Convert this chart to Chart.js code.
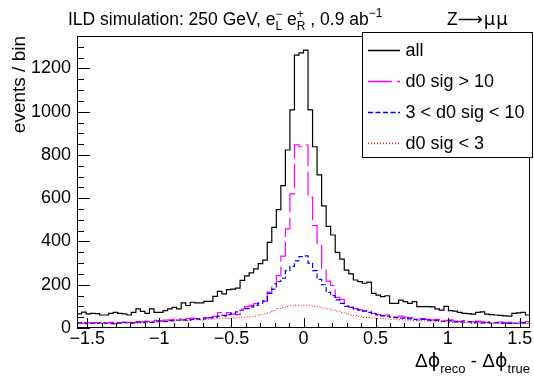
<!DOCTYPE html>
<html>
<head>
<meta charset="utf-8">
<script src="https://cdn.jsdelivr.net/npm/chart.js@4.4.1/dist/chart.umd.min.js"></script>
<style>
  html, body { margin: 0; padding: 0; background: #fff; }
  #wrap { width: 534px; height: 383px; }
</style>
</head>
<body>
<div id="wrap"><canvas id="myChart" width="534" height="383"></canvas></div>
<script>
// binning of the histograms
const xLow = -Math.PI / 2;
const xHigh = Math.PI / 2;
const nBins = 100;

const xTicks = [-1.5, -1, -0.5, 0, 0.5, 1, 1.5];
const yTicks = [0, 200, 400, 600, 800, 1000, 1200];
const yMax = 1350;

const seriesNames = ['all', 'd0 sig > 10', '3 < d0 sig < 10', 'd0 sig < 3'];

// events per bin
const allEvents = [
  65, 73, 65, 68, 66, 60, 60, 68, 72, 68,
  65, 60, 72, 88, 77, 68, 88, 72, 72, 80,
  88, 95, 88, 116, 104, 119, 116, 116, 123, 123,
  146, 169, 158, 177, 180, 184, 220, 241, 255, 273,
  298, 314, 396, 465, 547, 658, 823, 1008, 1262, 1272,
  1285, 1008, 838, 708, 565, 470, 430, 350, 318, 268,
  250, 222, 214, 207, 212, 160, 152, 145, 149, 114,
  114, 129, 122, 114, 122, 99, 99, 99, 98, 88,
  83, 100, 80, 78, 72, 68, 66, 64, 72, 75,
  64, 62, 60, 58, 56, 55, 68, 70, 72, 60
];
const sigHigh = [
  25, 22, 24, 22, 25, 22, 24, 26, 20, 25,
  28, 26, 25, 30, 28, 32, 30, 35, 33, 36,
  38, 40, 42, 38, 44, 46, 43, 50, 48, 47,
  54, 71, 55, 71, 64, 62, 88, 99, 105, 113,
  121, 123, 166, 205, 242, 332, 458, 620, 847, 838,
  846, 605, 473, 386, 273, 217, 197, 142, 132, 102,
  95, 90, 85, 80, 78, 68, 62, 58, 60, 52,
  50, 55, 50, 48, 45, 42, 44, 40, 38, 40,
  36, 35, 38, 32, 30, 34, 30, 28, 32, 28,
  26, 30, 25, 27, 24, 26, 22, 28, 25, 30
];
const sigMid = [
  22, 24, 20, 23, 21, 25, 22, 20, 24, 22,
  26, 24, 22, 27, 25, 28, 26, 30, 32, 30,
  34, 33, 36, 38, 35, 40, 42, 40, 45, 48,
  50, 55, 58, 62, 68, 75, 82, 90, 98, 105,
  115, 125, 160, 180, 215, 230, 265, 285, 310, 330,
  333, 300, 265, 225, 200, 165, 150, 130, 114, 100,
  95, 88, 82, 78, 72, 66, 60, 56, 55, 50,
  48, 46, 46, 42, 40, 38, 40, 36, 34, 35,
  32, 30, 33, 28, 30, 27, 28, 25, 27, 24,
  26, 23, 25, 22, 24, 21, 23, 22, 24, 22
];
const sigLow = [
  22, 20, 24, 21, 23, 20, 22, 25, 18, 24,
  22, 26, 24, 22, 28, 25, 30, 28, 30, 31,
  33, 34, 35, 36, 37, 36, 38, 37, 40, 41,
  42, 43, 45, 44, 48, 47, 50, 52, 52, 55,
  62, 66, 70, 80, 90, 96, 100, 103, 105, 104,
  106, 103, 100, 97, 92, 88, 83, 78, 72, 66,
  60, 58, 54, 49, 47, 46, 44, 45, 42, 40,
  41, 38, 37, 36, 34, 35, 32, 31, 32, 29,
  28, 29, 26, 27, 25, 26, 24, 22, 25, 21,
  23, 21, 24, 20, 22, 19, 23, 20, 22, 21
];

const FONT = '"Liberation Sans", Arial, Helvetica, sans-serif';
const SYM = '"DejaVu Sans", sans-serif';

// histogram -> step points at the bin edges
function toSteps(values) {
  const w = (xHigh - xLow) / nBins;
  const pts = values.map((v, i) => ({ x: xLow + i * w, y: v }));
  pts.push({ x: xHigh, y: values[values.length - 1] });
  return pts;
}

function minus(v) {
  return String(v).replace('-', '\u2212');
}

function drawParts(ctx, x, y, parts) {
  let cx = x;
  parts.forEach(p => {
    ctx.font = p.s + 'px ' + (p.f || FONT);
    ctx.fillText(p.t, cx, y + (p.dy || 0));
    if (!p.hold) cx += ctx.measureText(p.t).width + (p.gap || 0);
  });
  return cx;
}

function partsWidth(ctx, parts) {
  let w = 0;
  parts.forEach(p => {
    ctx.font = p.s + 'px ' + (p.f || FONT);
    if (!p.hold) w += ctx.measureText(p.t).width + (p.gap || 0);
  });
  return w;
}

const styles = [
  { color: '#000000', dash: [], width: 1.2 },
  { color: '#ff00ff', dash: [24, 5], width: 1.2 },
  { color: '#0000ff', dash: [5, 2.5], width: 1.2 },
  { color: '#ff0000', dash: [1, 2], width: 1 }
];

// frame, ticks, titles and the legend box
const rootStyle = {
  id: 'rootStyle',
  afterDatasetsDraw(chart) {
    const ctx = chart.ctx;
    const a = chart.chartArea;
    const xs = chart.scales.x;
    const ys = chart.scales.y;
    ctx.save();
    ctx.strokeStyle = '#000';
    ctx.lineWidth = 1;
    ctx.setLineDash([]);
    ctx.strokeRect(Math.round(a.left) + 0.5, Math.round(a.top) + 0.5,
      Math.round(a.right - a.left) - 1, Math.round(a.bottom - a.top) - 1);

    ctx.beginPath();
    for (let k = -16; k <= 16; k++) {
      const v = k / 10;
      if (v < xLow || v > xHigh) continue;
      const px = Math.round(xs.getPixelForValue(v)) + 0.5;
      const len = (k % 5 === 0) ? 10 : 5;
      ctx.moveTo(px, a.bottom);
      ctx.lineTo(px, a.bottom - len);
    }
    for (let v = 0; v <= yMax; v += 50) {
      const py = Math.round(ys.getPixelForValue(v)) + 0.5;
      const len = (v % 200 === 0) ? 13 : 7;
      ctx.moveTo(a.left, py);
      ctx.lineTo(a.left + len, py);
    }
    ctx.stroke();

    ctx.fillStyle = '#000';
    ctx.textBaseline = 'alphabetic';
    ctx.textAlign = 'left';

    // title
    drawParts(ctx, 68, 25, [
      { t: 'ILD simulation: 250 GeV, e', s: 17.5 },
      { t: '\u2212', s: 12, dy: -7, hold: true },
      { t: 'L', s: 12, dy: 5 },
      { t: ' e', s: 17.5 },
      { t: '+', s: 12, dy: -7, hold: true },
      { t: 'R', s: 12, dy: 5 },
      { t: ' , 0.9 ab', s: 17.5 },
      { t: '\u22121', s: 12, dy: -8 }
    ]);
    drawParts(ctx, 447, 25, [
      { t: 'Z', s: 17.5 },
      { t: '\u27f6', s: 17.5, f: SYM, gap: 1 },
      { t: '\u03bc', s: 18, f: SYM, gap: 1 },
      { t: '\u03bc', s: 18, f: SYM }
    ]);

    // x axis title, right aligned
    const xt = [
      { t: '\u0394', s: 19 },
      { t: '\u03d5', s: 19, f: SYM },
      { t: 'reco', s: 13, dy: 6 },
      { t: ' - \u0394', s: 19 },
      { t: '\u03d5', s: 19, f: SYM },
      { t: 'true', s: 13, dy: 6 }
    ];
    drawParts(ctx, a.right - partsWidth(ctx, xt), 367, xt);

    // y axis title, rotated, right aligned at the top
    ctx.save();
    ctx.translate(25, a.top);
    ctx.rotate(-Math.PI / 2);
    ctx.textAlign = 'right';
    ctx.font = '19px ' + FONT;
    ctx.fillText('events / bin', 0, 0);
    ctx.restore();

    // legend
    const lx = 362, ly = 32, lw = 171, lh = 126;
    ctx.fillStyle = '#fff';
    ctx.fillRect(lx, ly, lw, lh);
    ctx.strokeStyle = '#000';
    ctx.lineWidth = 1;
    ctx.strokeRect(lx + 0.5, ly + 0.5, lw - 1, lh - 1);
    ctx.font = '18px ' + FONT;
    ctx.textBaseline = 'middle';
    seriesNames.forEach((name, i) => {
      const yy = 50 + i * 31;
      ctx.strokeStyle = styles[i].color;
      ctx.lineWidth = 1.5;
      ctx.setLineDash(styles[i].dash);
      ctx.beginPath();
      ctx.moveTo(368, yy + 0.5);
      ctx.lineTo(400, yy + 0.5);
      ctx.stroke();
      ctx.fillStyle = '#000';
      ctx.fillText(name, 405.5, yy + 1);
    });
    ctx.restore();
  }
};

const ctx = document.getElementById('myChart');
const lists = [allEvents, sigHigh, sigMid, sigLow];

new Chart(ctx, {
  type: 'line',
  data: {
    datasets: lists.map((vals, i) => ({
      label: seriesNames[i],
      data: toSteps(vals),
      stepped: true,
      borderColor: styles[i].color,
      borderDash: styles[i].dash,
      borderWidth: styles[i].width,
      pointRadius: 0,
      fill: false,
      order: 4 - i
    }))
  },
  options: {
    responsive: false,
    animation: false,
    layout: { padding: { left: 0, right: 4, top: 36, bottom: 25 } },
    plugins: { legend: { display: false }, tooltip: { enabled: false } },
    scales: {
      x: {
        type: 'linear',
        min: xLow,
        max: xHigh,
        grid: { display: false, drawTicks: false },
        border: { display: false },
        afterBuildTicks: s => { s.ticks = xTicks.map(v => ({ value: v })); },
        afterFit: s => { s.height = 30; },
        ticks: {
          color: '#000',
          font: { family: FONT, size: 18 },
          padding: 0,
          maxRotation: 0,
          autoSkip: false,
          callback: v => minus(v)
        }
      },
      y: {
        type: 'linear',
        min: 0,
        max: yMax,
        grid: { display: false, drawTicks: false },
        border: { display: false },
        afterBuildTicks: s => { s.ticks = yTicks.map(v => ({ value: v })); },
        afterFit: s => { s.width = 77; },
        ticks: {
          color: '#000',
          font: { family: FONT, size: 18 },
          padding: 6,
          autoSkip: false,
          callback: v => String(v)
        }
      }
    }
  },
  plugins: [rootStyle]
});
</script>
</body>
</html>
